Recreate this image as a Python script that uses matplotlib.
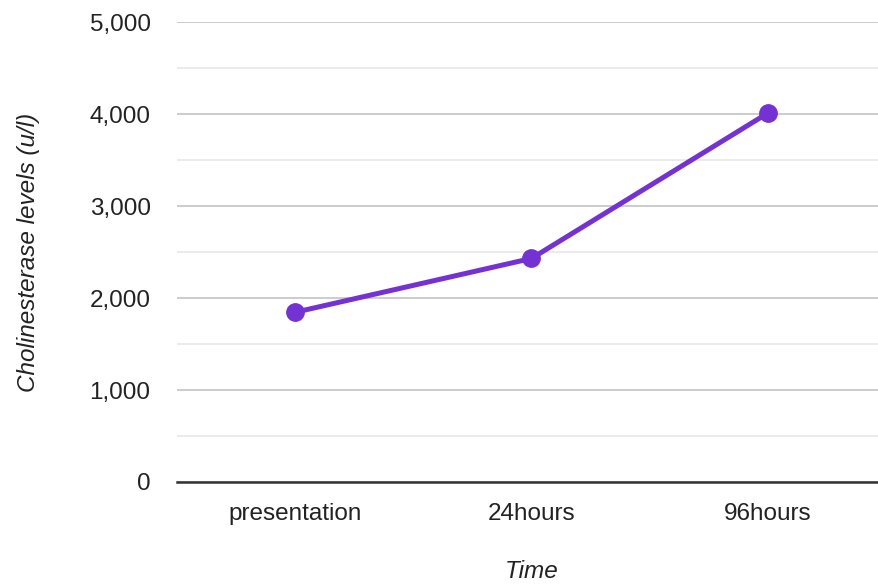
import matplotlib.pyplot as plt
from matplotlib.ticker import MultipleLocator, FuncFormatter

# cholinesterase readings over time
times = ["presentation", "24hours", "96hours"]
levels = [1845, 2430, 4010]

plt.rcParams['font.family'] = ['Liberation Sans', 'DejaVu Sans']

fig = plt.figure(figsize=(8.79, 5.84), dpi=100)
ax = fig.add_axes([177 / 879, 102 / 584, 709 / 879, 460 / 584])

x = range(len(times))
ax.plot(x, levels, color='#7431d3', linewidth=3.6, marker='o', markersize=12.5,
        solid_capstyle='round', zorder=3)

ax.set_xlim(-0.5, 2.5)
ax.set_ylim(0, 5000)
ax.yaxis.set_major_locator(MultipleLocator(1000))
ax.yaxis.set_minor_locator(MultipleLocator(500))
ax.yaxis.set_major_formatter(FuncFormatter(lambda v, p: f"{int(v):,}"))
ax.grid(axis='y', which='major', color='#c8c8c8', linewidth=1.3)
ax.grid(axis='y', which='minor', color='#e8e8e8', linewidth=1.3)
ax.set_axisbelow(True)

ax.set_xticks(list(x))
ax.set_xticklabels(times)
ax.tick_params(axis='both', which='both', length=0, labelsize=17.5, labelcolor='#222222')
ax.tick_params(axis='y', pad=19)
ax.tick_params(axis='x', pad=15)

for s in ['top', 'right', 'left']:
    ax.spines[s].set_visible(False)
ax.spines['bottom'].set_color('#333333')
ax.spines['bottom'].set_linewidth(1.8)
ax.spines['bottom'].set_zorder(4)

ax.set_ylabel("Cholinesterase levels (u/l)", fontsize=17.5, style='italic',
              color='#222222', labelpad=36)
ax.set_xlabel("Time", fontsize=17.5, style='italic', color='#222222', labelpad=25)

fig.savefig("out.png", dpi=100)
